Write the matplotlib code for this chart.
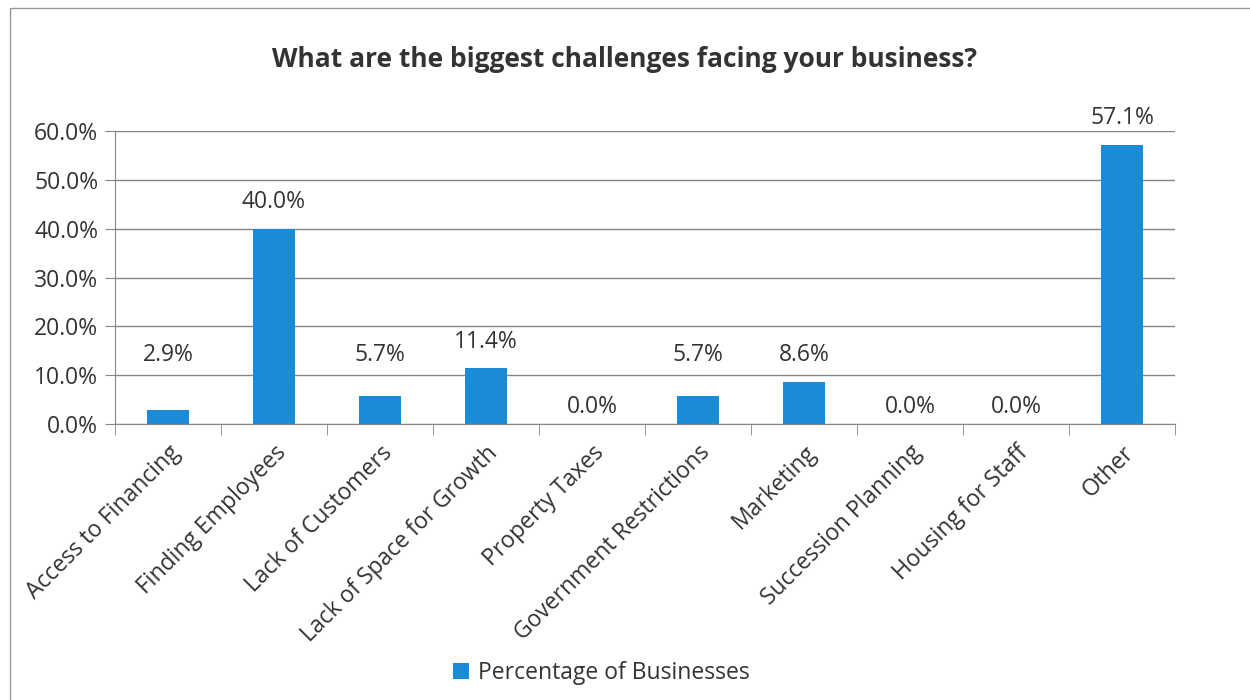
import matplotlib.pyplot as plt
from matplotlib.patches import Rectangle
from matplotlib.ticker import FuncFormatter

categories = ["Access to Financing", "Finding Employees", "Lack of Customers",
              "Lack of Space for Growth", "Property Taxes", "Government Restrictions",
              "Marketing", "Succession Planning", "Housing for Staff", "Other"]
values = [2.9, 40.0, 5.7, 11.4, 0.0, 5.7, 8.6, 0.0, 0.0, 57.1]
series_name = "Percentage of Businesses"
title = "What are the biggest challenges facing your business?"

plt.rcParams['font.family'] = ['Open Sans', 'DejaVu Sans']
txt = '#333333'

fig = plt.figure(figsize=(12.5, 7), dpi=100)
ax = fig.add_axes([0.092, 0.394, 0.848, 0.419])

x = list(range(len(categories)))
bars = ax.bar(x, values, width=0.4, color='#1b8bd8', label=series_name, zorder=3)
# labels sit above the bars; small non-zero ones get lifted like in the excel chart
for xi, v in zip(x, values):
    ly = 3.5 if v == 0 else max(v, 8.6) + 5.5
    ax.text(xi, ly, f"{v:.1f}%", ha='center', va='center', fontsize=16.5, color=txt)

ax.set_xlim(-0.5, len(categories) - 0.5)
ax.set_ylim(0, 60)
ax.set_yticks(range(0, 61, 10))
ax.yaxis.set_major_formatter(FuncFormatter(lambda v, p: f"{v:.1f}%"))
ax.grid(axis='y', color='#858585', linewidth=1.0, zorder=0)
for s in ['top', 'right']:
    ax.spines[s].set_visible(False)
ax.spines['left'].set_color('#858585')
ax.spines['bottom'].set_color('#858585')
ax.tick_params(axis='y', length=7, color='#858585', labelsize=16.5, labelcolor=txt, pad=5)

ax.set_xticks(x)
ax.set_xticklabels(categories, rotation=45, ha='right', rotation_mode='anchor',
                   fontsize=16.5, color=txt)
ax.tick_params(axis='x', length=0, pad=12)
ax.set_xticks([i - 0.5 for i in range(len(categories) + 1)], minor=True)
ax.tick_params(axis='x', which='minor', length=8, color='#858585')

fig.text(0.5, 0.915, title, ha='center', va='center', fontsize=19, fontweight='bold', color=txt)
fig.legend(handles=[bars], labels=[series_name], loc='center', bbox_to_anchor=(0.481, 0.038),
           frameon=False, fontsize=16.5, handlelength=0.7, handleheight=0.7, handletextpad=0.4,
           labelcolor=txt)

# outer chart border from the scan
fig.patches.append(Rectangle((10 / 1250, -0.1), 1.2, 1.1 - 8 / 700, transform=fig.transFigure,
                             fill=False, edgecolor='#999999', linewidth=1.0))

fig.savefig("out.png", dpi=100)
